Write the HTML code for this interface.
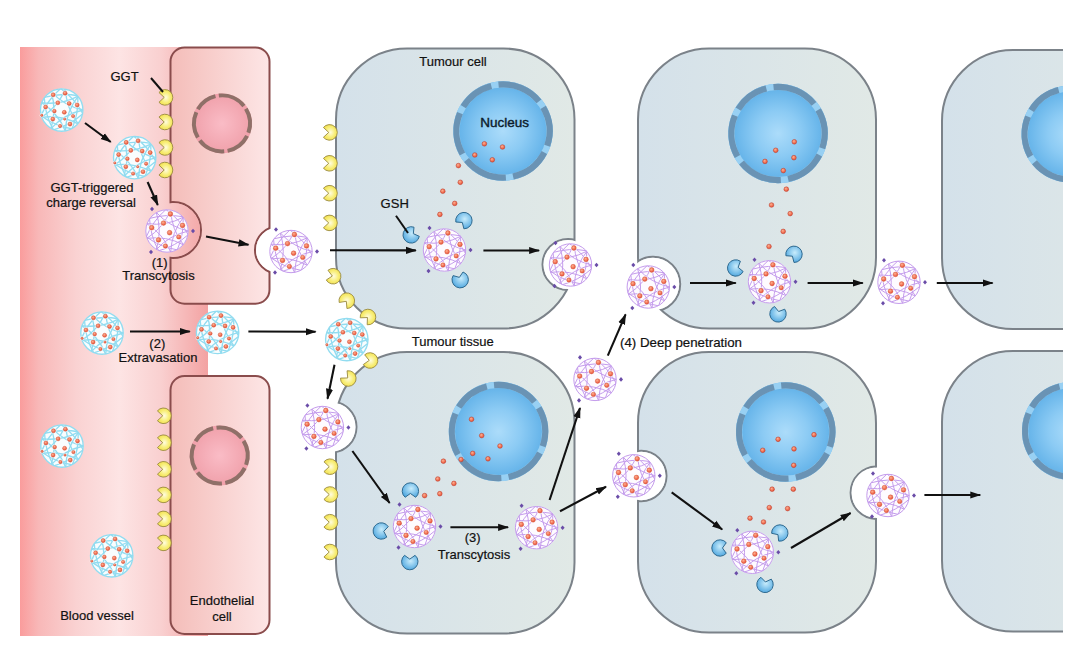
<!DOCTYPE html>
<html><head><meta charset="utf-8"><style>
html,body{margin:0;padding:0;background:#fff;width:1080px;height:656px;overflow:hidden}
text{-webkit-font-smoothing:antialiased}
svg{display:block}
text{font-family:"Liberation Sans", sans-serif}
</style></head><body>
<svg width="1080" height="656" viewBox="0 0 1080 656" font-family="Liberation Sans, sans-serif"><defs>
<linearGradient id="gVessel" gradientUnits="userSpaceOnUse" x1="20" y1="0" x2="208" y2="0">
  <stop offset="0" stop-color="#fa9c9c"/>
  <stop offset="0.1" stop-color="#f8b8b8"/>
  <stop offset="0.3" stop-color="#fad2d2"/>
  <stop offset="0.53" stop-color="#fde4e4"/>
  <stop offset="0.75" stop-color="#f9d0d0"/>
  <stop offset="1" stop-color="#f3a2a2"/>
</linearGradient>
<linearGradient id="gEndo" x1="0" y1="0" x2="1" y2="0">
  <stop offset="0" stop-color="#f4bdb9"/>
  <stop offset="1" stop-color="#fde6e6"/>
</linearGradient>
<linearGradient id="gTum" x1="0" y1="0" x2="1" y2="0">
  <stop offset="0" stop-color="#d4e1ea"/>
  <stop offset="1" stop-color="#e1e9e6"/>
</linearGradient>
<radialGradient id="gNuc" cx="0.5" cy="0.5" r="0.5">
  <stop offset="0" stop-color="#acdcfa"/>
  <stop offset="0.45" stop-color="#8ccbf4"/>
  <stop offset="0.9" stop-color="#64b3e9"/>
  <stop offset="1" stop-color="#64b3e9"/>
</radialGradient>
<radialGradient id="gNucE" cx="0.5" cy="0.5" r="0.5">
  <stop offset="0" stop-color="#fabcc6"/>
  <stop offset="1" stop-color="#f0a0aa"/>
</radialGradient>
<radialGradient id="gGGT" cx="0.5" cy="0.5" r="0.55">
  <stop offset="0" stop-color="#fffce0"/>
  <stop offset="0.6" stop-color="#f8ee78"/>
  <stop offset="1" stop-color="#f2e050"/>
</radialGradient>
<radialGradient id="gGSH" cx="0.55" cy="0.4" r="0.65">
  <stop offset="0" stop-color="#c8ecfc"/>
  <stop offset="1" stop-color="#4aa4de"/>
</radialGradient>
<radialGradient id="gDot" cx="0.4" cy="0.35" r="0.6">
  <stop offset="0" stop-color="#ffb090"/>
  <stop offset="1" stop-color="#e8553a"/>
</radialGradient>
<marker id="ah" viewBox="0 0 11 10" refX="10" refY="5" markerWidth="11" markerHeight="10" markerUnits="userSpaceOnUse" orient="auto">
  <path d="M0,1.4 L11,5 L0,8.6 Z" fill="#111"/>
</marker>

<symbol id="npB" viewBox="-23 -23 46 46" overflow="visible">
<clipPath id="cnpB"><circle r="21.5"/></clipPath>
<circle r="21.5" fill="#f9fdfe"/>
<g clip-path="url(#cnpB)" fill="none" stroke="#92dcf0" stroke-width="1.35">
<path d="M3.73,-21.17 Q4.46,-1.62 16.47,13.82"/>
<path d="M16.47,-13.82 Q4.46,1.62 3.73,21.17"/>
<path d="M21.50,0.00 Q2.38,4.11 -10.75,18.62"/>
<path d="M16.47,13.82 Q-0.82,4.68 -20.20,7.35"/>
<path d="M3.73,21.17 Q-3.64,3.05 -20.20,-7.35"/>
<path d="M-10.75,18.62 Q-4.75,0.00 -10.75,-18.62"/>
<path d="M-20.20,7.35 Q-3.64,-3.05 3.73,-21.17"/>
<path d="M-20.20,-7.35 Q-0.82,-4.68 16.47,-13.82"/>
<path d="M-10.75,-18.62 Q2.37,-4.11 21.50,0.00"/>
<path d="M21.17,3.73 Q8.32,15.29 -8.35,19.81"/>
<path d="M10.28,18.88 Q-6.76,16.04 -20.70,5.82"/>
<path d="M-8.35,19.81 Q-16.75,4.71 -17.46,-12.55"/>
<path d="M-20.70,5.82 Q-14.13,-10.16 -1.07,-21.47"/>
<path d="M-17.46,-12.55 Q-0.87,-17.38 16.12,-14.23"/>
<path d="M-1.07,-21.47 Q13.05,-11.52 21.17,3.73"/>
<path d="M16.12,-14.23 Q17.14,3.02 10.28,18.88"/>
</g>
<circle r="21.2" fill="none" stroke="#92dcf0" stroke-width="1.35"/>
<circle cx="-8.5" cy="-15.2" r="3.04" fill="#fff" opacity="0.6"/>
<circle cx="-8.5" cy="-15.2" r="2.04" fill="url(#gDot)" stroke="#d04830" stroke-width="0.4"/>
<circle cx="3.4" cy="-16.8" r="3.04" fill="#fff" opacity="0.6"/>
<circle cx="3.4" cy="-16.8" r="2.04" fill="url(#gDot)" stroke="#d04830" stroke-width="0.4"/>
<circle cx="-3.9" cy="-7.2" r="3.04" fill="#fff" opacity="0.6"/>
<circle cx="-3.9" cy="-7.2" r="2.04" fill="url(#gDot)" stroke="#d04830" stroke-width="0.4"/>
<circle cx="7.5" cy="-6.5" r="3.04" fill="#fff" opacity="0.6"/>
<circle cx="7.5" cy="-6.5" r="2.04" fill="url(#gDot)" stroke="#d04830" stroke-width="0.4"/>
<circle cx="15.5" cy="-5" r="3.04" fill="#fff" opacity="0.6"/>
<circle cx="15.5" cy="-5" r="2.04" fill="url(#gDot)" stroke="#d04830" stroke-width="0.4"/>
<circle cx="-16.1" cy="-3" r="3.04" fill="#fff" opacity="0.6"/>
<circle cx="-16.1" cy="-3" r="2.04" fill="url(#gDot)" stroke="#d04830" stroke-width="0.4"/>
<circle cx="-7.3" cy="1.1" r="2.87" fill="#fff" opacity="0.6"/>
<circle cx="-7.3" cy="1.1" r="1.87" fill="url(#gDot)" stroke="#d04830" stroke-width="0.4"/>
<circle cx="2.6" cy="2.3" r="3.04" fill="#fff" opacity="0.6"/>
<circle cx="2.6" cy="2.3" r="2.04" fill="url(#gDot)" stroke="#d04830" stroke-width="0.4"/>
<circle cx="11.4" cy="6.1" r="2.7" fill="#fff" opacity="0.6"/>
<circle cx="11.4" cy="6.1" r="1.7" fill="url(#gDot)" stroke="#d04830" stroke-width="0.4"/>
<circle cx="-19.9" cy="5.3" r="2.19" fill="#fff" opacity="0.6"/>
<circle cx="-19.9" cy="5.3" r="1.19" fill="url(#gDot)" stroke="#d04830" stroke-width="0.4"/>
<circle cx="-8.9" cy="9.1" r="3.04" fill="#fff" opacity="0.6"/>
<circle cx="-8.9" cy="9.1" r="2.04" fill="url(#gDot)" stroke="#d04830" stroke-width="0.4"/>
<circle cx="3" cy="9.1" r="2.19" fill="#fff" opacity="0.6"/>
<circle cx="3" cy="9.1" r="1.19" fill="url(#gDot)" stroke="#d04830" stroke-width="0.4"/>
<circle cx="8.3" cy="14.1" r="3.04" fill="#fff" opacity="0.6"/>
<circle cx="8.3" cy="14.1" r="2.04" fill="url(#gDot)" stroke="#d04830" stroke-width="0.4"/>
<circle cx="-1.6" cy="16" r="2.7" fill="#fff" opacity="0.6"/>
<circle cx="-1.6" cy="16" r="1.7" fill="url(#gDot)" stroke="#d04830" stroke-width="0.4"/>
</symbol>
<symbol id="npP" viewBox="-23 -23 46 46" overflow="visible">
<clipPath id="cnpP"><circle r="21.5"/></clipPath>
<circle r="21.5" fill="#fefbff"/>
<g clip-path="url(#cnpP)" fill="none" stroke="#c49cec" stroke-width="1.0">
<path d="M3.73,-21.17 Q4.46,-1.62 16.47,13.82"/>
<path d="M16.47,-13.82 Q4.46,1.62 3.73,21.17"/>
<path d="M21.50,0.00 Q2.38,4.11 -10.75,18.62"/>
<path d="M16.47,13.82 Q-0.82,4.68 -20.20,7.35"/>
<path d="M3.73,21.17 Q-3.64,3.05 -20.20,-7.35"/>
<path d="M-10.75,18.62 Q-4.75,0.00 -10.75,-18.62"/>
<path d="M-20.20,7.35 Q-3.64,-3.05 3.73,-21.17"/>
<path d="M-20.20,-7.35 Q-0.82,-4.68 16.47,-13.82"/>
<path d="M-10.75,-18.62 Q2.37,-4.11 21.50,0.00"/>
<path d="M21.17,3.73 Q8.32,15.29 -8.35,19.81"/>
<path d="M10.28,18.88 Q-6.76,16.04 -20.70,5.82"/>
<path d="M-8.35,19.81 Q-16.75,4.71 -17.46,-12.55"/>
<path d="M-20.70,5.82 Q-14.13,-10.16 -1.07,-21.47"/>
<path d="M-17.46,-12.55 Q-0.87,-17.38 16.12,-14.23"/>
<path d="M-1.07,-21.47 Q13.05,-11.52 21.17,3.73"/>
<path d="M16.12,-14.23 Q17.14,3.02 10.28,18.88"/>
</g>
<circle r="21.2" fill="none" stroke="#c49cec" stroke-width="1.0"/>
<circle cx="3.4" cy="-17" r="3.38" fill="#fff" opacity="0.6"/>
<circle cx="3.4" cy="-17" r="2.38" fill="url(#gDot)" stroke="#d04830" stroke-width="0.4"/>
<circle cx="-3.5" cy="-7.9" r="3.38" fill="#fff" opacity="0.6"/>
<circle cx="-3.5" cy="-7.9" r="2.38" fill="url(#gDot)" stroke="#d04830" stroke-width="0.4"/>
<circle cx="15.5" cy="-5.6" r="3.38" fill="#fff" opacity="0.6"/>
<circle cx="15.5" cy="-5.6" r="2.38" fill="url(#gDot)" stroke="#d04830" stroke-width="0.4"/>
<circle cx="-15.3" cy="-3.3" r="3.38" fill="#fff" opacity="0.6"/>
<circle cx="-15.3" cy="-3.3" r="2.38" fill="url(#gDot)" stroke="#d04830" stroke-width="0.4"/>
<circle cx="2.6" cy="1.7" r="3.38" fill="#fff" opacity="0.6"/>
<circle cx="2.6" cy="1.7" r="2.38" fill="url(#gDot)" stroke="#d04830" stroke-width="0.4"/>
<circle cx="11.7" cy="5.9" r="3.21" fill="#fff" opacity="0.6"/>
<circle cx="11.7" cy="5.9" r="2.21" fill="url(#gDot)" stroke="#d04830" stroke-width="0.4"/>
<circle cx="-8.5" cy="8.9" r="3.38" fill="#fff" opacity="0.6"/>
<circle cx="-8.5" cy="8.9" r="2.38" fill="url(#gDot)" stroke="#d04830" stroke-width="0.4"/>
<circle cx="-1.6" cy="15" r="3.21" fill="#fff" opacity="0.6"/>
<circle cx="-1.6" cy="15" r="2.21" fill="url(#gDot)" stroke="#d04830" stroke-width="0.4"/>
</symbol></defs>
<rect x="20" y="47" width="188" height="589" fill="url(#gVessel)"/>
<mask id="mE47" maskUnits="userSpaceOnUse" x="0" y="0" width="1080" height="656"><rect width="1080" height="656" fill="#fff"/><circle cx="173" cy="230" r="27" fill="#000"/><circle cx="278.6" cy="250" r="22.6" fill="#000"/></mask>
<clipPath id="cE47"><rect x="170.5" y="47.5" width="99.0" height="256.2" rx="14"/></clipPath>
<g mask="url(#mE47)">
<rect x="170.5" y="47.5" width="99.0" height="256.2" rx="14" fill="url(#gEndo)" stroke="#8a4c4c" stroke-width="2"/>
<circle cx="173" cy="230" r="28" fill="none" stroke="#8a4c4c" stroke-width="2" clip-path="url(#cE47)"/>
<circle cx="278.6" cy="250" r="23.6" fill="none" stroke="#8a4c4c" stroke-width="2" clip-path="url(#cE47)"/>
</g>
<mask id="mE376" maskUnits="userSpaceOnUse" x="0" y="0" width="1080" height="656"><rect width="1080" height="656" fill="#fff"/></mask>
<clipPath id="cE376"><rect x="170.5" y="376" width="99.0" height="258" rx="14"/></clipPath>
<g mask="url(#mE376)">
<rect x="170.5" y="376" width="99.0" height="258" rx="14" fill="url(#gEndo)" stroke="#8a4c4c" stroke-width="2"/>
</g>
<circle cx="222" cy="123.4" r="30" fill="url(#gNucE)"/>
<path d="M218.83,95.58 A28.0,28.0 0 0 1 243.91,105.97" fill="none" stroke="#8f7068" stroke-width="4"/>
<path d="M245.87,108.77 A28.0,28.0 0 0 1 248.39,132.75" fill="none" stroke="#8f7068" stroke-width="4"/>
<path d="M247.06,135.89 A28.0,28.0 0 0 1 227.58,150.84" fill="none" stroke="#8f7068" stroke-width="4"/>
<path d="M224.20,151.31 A28.0,28.0 0 0 1 199.79,140.45" fill="none" stroke="#8f7068" stroke-width="4"/>
<path d="M197.87,137.61 A28.0,28.0 0 0 1 196.32,112.24" fill="none" stroke="#8f7068" stroke-width="4"/>
<path d="M197.87,109.19 A28.0,28.0 0 0 1 215.46,96.17" fill="none" stroke="#8f7068" stroke-width="4"/>
<circle cx="219.7" cy="455.5" r="30" fill="url(#gNucE)"/>
<path d="M216.53,427.68 A28.0,28.0 0 0 1 241.61,438.07" fill="none" stroke="#8f7068" stroke-width="4"/>
<path d="M243.57,440.87 A28.0,28.0 0 0 1 246.09,464.85" fill="none" stroke="#8f7068" stroke-width="4"/>
<path d="M244.76,467.99 A28.0,28.0 0 0 1 225.28,482.94" fill="none" stroke="#8f7068" stroke-width="4"/>
<path d="M221.90,483.41 A28.0,28.0 0 0 1 197.49,472.55" fill="none" stroke="#8f7068" stroke-width="4"/>
<path d="M195.57,469.71 A28.0,28.0 0 0 1 194.02,444.34" fill="none" stroke="#8f7068" stroke-width="4"/>
<path d="M195.57,441.29 A28.0,28.0 0 0 1 213.16,428.27" fill="none" stroke="#8f7068" stroke-width="4"/>
<mask id="mTA" maskUnits="userSpaceOnUse" x="0" y="0" width="1080" height="656"><rect width="1080" height="656" fill="#fff"/><circle cx="568" cy="264.5" r="24.5" fill="#000"/></mask>
<clipPath id="cTA"><path d="M407,48.5 H503.5 A71,71 0 0 1 574.5,119.5 V257.5 A71,71 0 0 1 503.5,328.5 H407 A71,71 0 0 1 336,257.5 V119.5 A71,71 0 0 1 407,48.5 Z"/></clipPath>
<g mask="url(#mTA)">
<path d="M407,48.5 H503.5 A71,71 0 0 1 574.5,119.5 V257.5 A71,71 0 0 1 503.5,328.5 H407 A71,71 0 0 1 336,257.5 V119.5 A71,71 0 0 1 407,48.5 Z" fill="url(#gTum)" stroke="#7b8289" stroke-width="2"/>
<circle cx="568" cy="264.5" r="25.5" fill="none" stroke="#7b8289" stroke-width="2" clip-path="url(#cTA)"/>
</g>
<mask id="mTB" maskUnits="userSpaceOnUse" x="0" y="0" width="1080" height="656"><rect width="1080" height="656" fill="#fff"/><circle cx="653" cy="284" r="26.2" fill="#000"/></mask>
<clipPath id="cTB"><path d="M709,48.5 H805 A71,71 0 0 1 876,119.5 V257.5 A71,71 0 0 1 805,328.5 H709 A71,71 0 0 1 638,257.5 V119.5 A71,71 0 0 1 709,48.5 Z"/></clipPath>
<g mask="url(#mTB)">
<path d="M709,48.5 H805 A71,71 0 0 1 876,119.5 V257.5 A71,71 0 0 1 805,328.5 H709 A71,71 0 0 1 638,257.5 V119.5 A71,71 0 0 1 709,48.5 Z" fill="url(#gTum)" stroke="#7b8289" stroke-width="2"/>
<circle cx="653" cy="284" r="27.2" fill="none" stroke="#7b8289" stroke-width="2" clip-path="url(#cTB)"/>
</g>
<mask id="mTC" maskUnits="userSpaceOnUse" x="0" y="0" width="1080" height="656"><rect width="1080" height="656" fill="#fff"/><rect x="1063" y="0" width="17" height="656" fill="#000"/></mask>
<clipPath id="cTC"><path d="M1013,50 H1109 A71,71 0 0 1 1180,121 V258 A71,71 0 0 1 1109,329 H1013 A71,71 0 0 1 942,258 V121 A71,71 0 0 1 1013,50 Z"/></clipPath>
<g mask="url(#mTC)">
<path d="M1013,50 H1109 A71,71 0 0 1 1180,121 V258 A71,71 0 0 1 1109,329 H1013 A71,71 0 0 1 942,258 V121 A71,71 0 0 1 1013,50 Z" fill="url(#gTum)" stroke="#7b8289" stroke-width="2"/>
</g>
<mask id="mTD" maskUnits="userSpaceOnUse" x="0" y="0" width="1080" height="656"><rect width="1080" height="656" fill="#fff"/><circle cx="331" cy="427" r="24.5" fill="#000"/></mask>
<clipPath id="cTD"><path d="M407,352 H503.5 A71,71 0 0 1 574.5,423 V562.5 A71,71 0 0 1 503.5,633.5 H407 A71,71 0 0 1 336,562.5 V423 A71,71 0 0 1 407,352 Z"/></clipPath>
<g mask="url(#mTD)">
<path d="M407,352 H503.5 A71,71 0 0 1 574.5,423 V562.5 A71,71 0 0 1 503.5,633.5 H407 A71,71 0 0 1 336,562.5 V423 A71,71 0 0 1 407,352 Z" fill="url(#gTum)" stroke="#7b8289" stroke-width="2"/>
<circle cx="331" cy="427" r="25.5" fill="none" stroke="#7b8289" stroke-width="2" clip-path="url(#cTD)"/>
</g>
<mask id="mTE" maskUnits="userSpaceOnUse" x="0" y="0" width="1080" height="656"><rect width="1080" height="656" fill="#fff"/><circle cx="641.3" cy="476" r="24.2" fill="#000"/><circle cx="876.9" cy="492.7" r="25.3" fill="#000"/></mask>
<clipPath id="cTE"><path d="M709,352 H805 A71,71 0 0 1 876,423 V561.5 A71,71 0 0 1 805,632.5 H709 A71,71 0 0 1 638,561.5 V423 A71,71 0 0 1 709,352 Z"/></clipPath>
<g mask="url(#mTE)">
<path d="M709,352 H805 A71,71 0 0 1 876,423 V561.5 A71,71 0 0 1 805,632.5 H709 A71,71 0 0 1 638,561.5 V423 A71,71 0 0 1 709,352 Z" fill="url(#gTum)" stroke="#7b8289" stroke-width="2"/>
<circle cx="641.3" cy="476" r="25.2" fill="none" stroke="#7b8289" stroke-width="2" clip-path="url(#cTE)"/>
<circle cx="876.9" cy="492.7" r="26.3" fill="none" stroke="#7b8289" stroke-width="2" clip-path="url(#cTE)"/>
</g>
<mask id="mTF" maskUnits="userSpaceOnUse" x="0" y="0" width="1080" height="656"><rect width="1080" height="656" fill="#fff"/><rect x="1063" y="0" width="17" height="656" fill="#000"/></mask>
<clipPath id="cTF"><path d="M1013,351 H1109 A71,71 0 0 1 1180,422 V560.5 A71,71 0 0 1 1109,631.5 H1013 A71,71 0 0 1 942,560.5 V422 A71,71 0 0 1 1013,351 Z"/></clipPath>
<g mask="url(#mTF)">
<path d="M1013,351 H1109 A71,71 0 0 1 1180,422 V560.5 A71,71 0 0 1 1109,631.5 H1013 A71,71 0 0 1 942,560.5 V422 A71,71 0 0 1 1013,351 Z" fill="url(#gTum)" stroke="#7b8289" stroke-width="2"/>
</g>
<clipPath id="clipR"><rect x="0" y="0" width="1063" height="656"/></clipPath>
<circle cx="503" cy="131" r="49.7" fill="url(#gNuc)"/>
<circle cx="503" cy="131" r="46.6" fill="none" stroke="#98d0f3" stroke-width="6.2"/>
<path d="M498.53,84.61 A46.6,46.6 0 0 1 538.96,101.36" fill="none" stroke="#6a93b4" stroke-width="6.2"/>
<path d="M543.15,107.35 A46.6,46.6 0 0 1 547.19,145.79" fill="none" stroke="#6a93b4" stroke-width="6.2"/>
<path d="M544.33,152.52 A46.6,46.6 0 0 1 513.09,176.50" fill="none" stroke="#6a93b4" stroke-width="6.2"/>
<path d="M505.84,177.51 A46.6,46.6 0 0 1 466.53,160.01" fill="none" stroke="#6a93b4" stroke-width="6.2"/>
<path d="M462.44,153.95 A46.6,46.6 0 0 1 459.95,113.17" fill="none" stroke="#6a93b4" stroke-width="6.2"/>
<path d="M463.27,106.65 A46.6,46.6 0 0 1 491.33,85.88" fill="none" stroke="#6a93b4" stroke-width="6.2"/>
<circle cx="778" cy="133.5" r="49.7" fill="url(#gNuc)"/>
<circle cx="778" cy="133.5" r="46.6" fill="none" stroke="#98d0f3" stroke-width="6.2"/>
<path d="M773.53,87.11 A46.6,46.6 0 0 1 813.96,103.86" fill="none" stroke="#6a93b4" stroke-width="6.2"/>
<path d="M818.15,109.85 A46.6,46.6 0 0 1 822.19,148.29" fill="none" stroke="#6a93b4" stroke-width="6.2"/>
<path d="M819.33,155.02 A46.6,46.6 0 0 1 788.09,179.00" fill="none" stroke="#6a93b4" stroke-width="6.2"/>
<path d="M780.84,180.01 A46.6,46.6 0 0 1 741.53,162.51" fill="none" stroke="#6a93b4" stroke-width="6.2"/>
<path d="M737.44,156.45 A46.6,46.6 0 0 1 734.95,115.67" fill="none" stroke="#6a93b4" stroke-width="6.2"/>
<path d="M738.27,109.15 A46.6,46.6 0 0 1 766.33,88.38" fill="none" stroke="#6a93b4" stroke-width="6.2"/>
<g clip-path="url(#clipR)">
<circle cx="1070" cy="134" r="48.5" fill="url(#gNuc)"/>
<circle cx="1070" cy="134" r="45.4" fill="none" stroke="#98d0f3" stroke-width="6.2"/>
<path d="M1065.65,88.81 A45.4,45.4 0 0 1 1105.03,105.12" fill="none" stroke="#6a93b4" stroke-width="6.2"/>
<path d="M1109.12,110.96 A45.4,45.4 0 0 1 1113.05,148.41" fill="none" stroke="#6a93b4" stroke-width="6.2"/>
<path d="M1110.27,154.96 A45.4,45.4 0 0 1 1079.83,178.32" fill="none" stroke="#6a93b4" stroke-width="6.2"/>
<path d="M1072.77,179.32 A45.4,45.4 0 0 1 1034.47,162.26" fill="none" stroke="#6a93b4" stroke-width="6.2"/>
<path d="M1030.49,156.36 A45.4,45.4 0 0 1 1028.06,116.63" fill="none" stroke="#6a93b4" stroke-width="6.2"/>
<path d="M1031.29,110.28 A45.4,45.4 0 0 1 1058.63,90.05" fill="none" stroke="#6a93b4" stroke-width="6.2"/>
</g>
<circle cx="498.5" cy="431.5" r="49.7" fill="url(#gNuc)"/>
<circle cx="498.5" cy="431.5" r="46.6" fill="none" stroke="#98d0f3" stroke-width="6.2"/>
<path d="M494.03,385.11 A46.6,46.6 0 0 1 534.46,401.86" fill="none" stroke="#6a93b4" stroke-width="6.2"/>
<path d="M538.65,407.85 A46.6,46.6 0 0 1 542.69,446.29" fill="none" stroke="#6a93b4" stroke-width="6.2"/>
<path d="M539.83,453.02 A46.6,46.6 0 0 1 508.59,477.00" fill="none" stroke="#6a93b4" stroke-width="6.2"/>
<path d="M501.34,478.01 A46.6,46.6 0 0 1 462.03,460.51" fill="none" stroke="#6a93b4" stroke-width="6.2"/>
<path d="M457.94,454.45 A46.6,46.6 0 0 1 455.45,413.67" fill="none" stroke="#6a93b4" stroke-width="6.2"/>
<path d="M458.77,407.15 A46.6,46.6 0 0 1 486.83,386.38" fill="none" stroke="#6a93b4" stroke-width="6.2"/>
<circle cx="785.7" cy="432" r="49.7" fill="url(#gNuc)"/>
<circle cx="785.7" cy="432" r="46.6" fill="none" stroke="#98d0f3" stroke-width="6.2"/>
<path d="M781.23,385.61 A46.6,46.6 0 0 1 821.66,402.36" fill="none" stroke="#6a93b4" stroke-width="6.2"/>
<path d="M825.85,408.35 A46.6,46.6 0 0 1 829.89,446.79" fill="none" stroke="#6a93b4" stroke-width="6.2"/>
<path d="M827.03,453.52 A46.6,46.6 0 0 1 795.79,477.50" fill="none" stroke="#6a93b4" stroke-width="6.2"/>
<path d="M788.54,478.51 A46.6,46.6 0 0 1 749.23,461.01" fill="none" stroke="#6a93b4" stroke-width="6.2"/>
<path d="M745.14,454.95 A46.6,46.6 0 0 1 742.65,414.17" fill="none" stroke="#6a93b4" stroke-width="6.2"/>
<path d="M745.97,407.65 A46.6,46.6 0 0 1 774.03,386.88" fill="none" stroke="#6a93b4" stroke-width="6.2"/>
<g clip-path="url(#clipR)">
<circle cx="1071" cy="431" r="49" fill="url(#gNuc)"/>
<circle cx="1071" cy="431" r="45.9" fill="none" stroke="#98d0f3" stroke-width="6.2"/>
<path d="M1066.60,385.31 A45.9,45.9 0 0 1 1106.42,401.80" fill="none" stroke="#6a93b4" stroke-width="6.2"/>
<path d="M1110.55,407.70 A45.9,45.9 0 0 1 1114.53,445.56" fill="none" stroke="#6a93b4" stroke-width="6.2"/>
<path d="M1111.71,452.19 A45.9,45.9 0 0 1 1080.93,475.81" fill="none" stroke="#6a93b4" stroke-width="6.2"/>
<path d="M1073.80,476.81 A45.9,45.9 0 0 1 1035.08,459.57" fill="none" stroke="#6a93b4" stroke-width="6.2"/>
<path d="M1031.05,453.60 A45.9,45.9 0 0 1 1028.59,413.43" fill="none" stroke="#6a93b4" stroke-width="6.2"/>
<path d="M1031.86,407.02 A45.9,45.9 0 0 1 1059.51,386.56" fill="none" stroke="#6a93b4" stroke-width="6.2"/>
</g>
<circle cx="484.4" cy="143.8" r="2.35" fill="url(#gDot)" stroke="#b83828" stroke-width="0.5"/>
<circle cx="502.5" cy="147" r="2.35" fill="url(#gDot)" stroke="#b83828" stroke-width="0.5"/>
<circle cx="474.8" cy="155" r="2.35" fill="url(#gDot)" stroke="#b83828" stroke-width="0.5"/>
<circle cx="492.3" cy="159.8" r="2.35" fill="url(#gDot)" stroke="#b83828" stroke-width="0.5"/>
<circle cx="458.4" cy="165.6" r="2.35" fill="url(#gDot)" stroke="#b83828" stroke-width="0.5"/>
<circle cx="460.3" cy="182.3" r="2.35" fill="url(#gDot)" stroke="#b83828" stroke-width="0.5"/>
<circle cx="442.8" cy="191.2" r="2.35" fill="url(#gDot)" stroke="#b83828" stroke-width="0.5"/>
<circle cx="454.7" cy="203.4" r="2.35" fill="url(#gDot)" stroke="#b83828" stroke-width="0.5"/>
<circle cx="439.9" cy="214.4" r="2.35" fill="url(#gDot)" stroke="#b83828" stroke-width="0.5"/>
<circle cx="794.3" cy="141.8" r="2.35" fill="url(#gDot)" stroke="#b83828" stroke-width="0.5"/>
<circle cx="775.7" cy="150.3" r="2.35" fill="url(#gDot)" stroke="#b83828" stroke-width="0.5"/>
<circle cx="793.9" cy="157.7" r="2.35" fill="url(#gDot)" stroke="#b83828" stroke-width="0.5"/>
<circle cx="765" cy="161.4" r="2.35" fill="url(#gDot)" stroke="#b83828" stroke-width="0.5"/>
<circle cx="783.3" cy="170.6" r="2.35" fill="url(#gDot)" stroke="#b83828" stroke-width="0.5"/>
<circle cx="786.3" cy="189.2" r="2.35" fill="url(#gDot)" stroke="#b83828" stroke-width="0.5"/>
<circle cx="771.5" cy="205" r="2.35" fill="url(#gDot)" stroke="#b83828" stroke-width="0.5"/>
<circle cx="790.2" cy="213.6" r="2.35" fill="url(#gDot)" stroke="#b83828" stroke-width="0.5"/>
<circle cx="783.2" cy="231.4" r="2.35" fill="url(#gDot)" stroke="#b83828" stroke-width="0.5"/>
<circle cx="769" cy="246.5" r="2.35" fill="url(#gDot)" stroke="#b83828" stroke-width="0.5"/>
<circle cx="471.5" cy="419.3" r="2.35" fill="url(#gDot)" stroke="#b83828" stroke-width="0.5"/>
<circle cx="481.7" cy="435.6" r="2.35" fill="url(#gDot)" stroke="#b83828" stroke-width="0.5"/>
<circle cx="500" cy="446" r="2.35" fill="url(#gDot)" stroke="#b83828" stroke-width="0.5"/>
<circle cx="472.7" cy="453.4" r="2.35" fill="url(#gDot)" stroke="#b83828" stroke-width="0.5"/>
<circle cx="488" cy="458.8" r="2.35" fill="url(#gDot)" stroke="#b83828" stroke-width="0.5"/>
<circle cx="461" cy="459.5" r="2.35" fill="url(#gDot)" stroke="#b83828" stroke-width="0.5"/>
<circle cx="443.4" cy="461.2" r="2.35" fill="url(#gDot)" stroke="#b83828" stroke-width="0.5"/>
<circle cx="437.8" cy="479" r="2.35" fill="url(#gDot)" stroke="#b83828" stroke-width="0.5"/>
<circle cx="453.9" cy="483.4" r="2.35" fill="url(#gDot)" stroke="#b83828" stroke-width="0.5"/>
<circle cx="424.6" cy="495.6" r="2.35" fill="url(#gDot)" stroke="#b83828" stroke-width="0.5"/>
<circle cx="439.8" cy="493.7" r="2.35" fill="url(#gDot)" stroke="#b83828" stroke-width="0.5"/>
<circle cx="778.1" cy="439.3" r="2.35" fill="url(#gDot)" stroke="#b83828" stroke-width="0.5"/>
<circle cx="814" cy="434.7" r="2.35" fill="url(#gDot)" stroke="#b83828" stroke-width="0.5"/>
<circle cx="762.7" cy="450.3" r="2.35" fill="url(#gDot)" stroke="#b83828" stroke-width="0.5"/>
<circle cx="794" cy="448.9" r="2.35" fill="url(#gDot)" stroke="#b83828" stroke-width="0.5"/>
<circle cx="793.7" cy="465.3" r="2.35" fill="url(#gDot)" stroke="#b83828" stroke-width="0.5"/>
<circle cx="772.1" cy="489.2" r="2.35" fill="url(#gDot)" stroke="#b83828" stroke-width="0.5"/>
<circle cx="793.3" cy="489.2" r="2.35" fill="url(#gDot)" stroke="#b83828" stroke-width="0.5"/>
<circle cx="769.3" cy="507.6" r="2.35" fill="url(#gDot)" stroke="#b83828" stroke-width="0.5"/>
<circle cx="787.6" cy="508.6" r="2.35" fill="url(#gDot)" stroke="#b83828" stroke-width="0.5"/>
<circle cx="750" cy="518.2" r="2.35" fill="url(#gDot)" stroke="#b83828" stroke-width="0.5"/>
<circle cx="763.5" cy="522" r="2.35" fill="url(#gDot)" stroke="#b83828" stroke-width="0.5"/>
<path d="M164.22,97.40 L158.94,92.49 A7.8,7.8 0 1 1 158.94,102.31 Z" fill="url(#gGGT)" stroke="#9a8a40" stroke-width="0.9" stroke-linejoin="round"/>
<path d="M164.22,122.00 L158.94,117.09 A7.8,7.8 0 1 1 158.94,126.91 Z" fill="url(#gGGT)" stroke="#9a8a40" stroke-width="0.9" stroke-linejoin="round"/>
<path d="M164.22,147.50 L158.94,142.59 A7.8,7.8 0 1 1 158.94,152.41 Z" fill="url(#gGGT)" stroke="#9a8a40" stroke-width="0.9" stroke-linejoin="round"/>
<path d="M164.22,170.00 L158.94,165.09 A7.8,7.8 0 1 1 158.94,174.91 Z" fill="url(#gGGT)" stroke="#9a8a40" stroke-width="0.9" stroke-linejoin="round"/>
<path d="M162.72,415.80 L157.44,410.89 A7.8,7.8 0 1 1 157.44,420.71 Z" fill="url(#gGGT)" stroke="#9a8a40" stroke-width="0.9" stroke-linejoin="round"/>
<path d="M162.72,442.70 L157.44,437.79 A7.8,7.8 0 1 1 157.44,447.61 Z" fill="url(#gGGT)" stroke="#9a8a40" stroke-width="0.9" stroke-linejoin="round"/>
<path d="M162.72,469.30 L157.44,464.39 A7.8,7.8 0 1 1 157.44,474.21 Z" fill="url(#gGGT)" stroke="#9a8a40" stroke-width="0.9" stroke-linejoin="round"/>
<path d="M162.72,494.90 L157.44,489.99 A7.8,7.8 0 1 1 157.44,499.81 Z" fill="url(#gGGT)" stroke="#9a8a40" stroke-width="0.9" stroke-linejoin="round"/>
<path d="M162.72,518.90 L157.44,513.99 A7.8,7.8 0 1 1 157.44,523.81 Z" fill="url(#gGGT)" stroke="#9a8a40" stroke-width="0.9" stroke-linejoin="round"/>
<path d="M162.72,542.90 L157.44,537.99 A7.8,7.8 0 1 1 157.44,547.81 Z" fill="url(#gGGT)" stroke="#9a8a40" stroke-width="0.9" stroke-linejoin="round"/>
<path d="M328.72,132.40 L323.44,127.49 A7.8,7.8 0 1 1 323.44,137.31 Z" fill="url(#gGGT)" stroke="#9a8a40" stroke-width="0.9" stroke-linejoin="round"/>
<path d="M328.72,163.30 L323.44,158.39 A7.8,7.8 0 1 1 323.44,168.21 Z" fill="url(#gGGT)" stroke="#9a8a40" stroke-width="0.9" stroke-linejoin="round"/>
<path d="M328.72,193.20 L323.44,188.29 A7.8,7.8 0 1 1 323.44,198.11 Z" fill="url(#gGGT)" stroke="#9a8a40" stroke-width="0.9" stroke-linejoin="round"/>
<path d="M328.72,222.90 L323.44,217.99 A7.8,7.8 0 1 1 323.44,227.81 Z" fill="url(#gGGT)" stroke="#9a8a40" stroke-width="0.9" stroke-linejoin="round"/>
<path d="M332.33,276.06 L327.98,270.31 A7.8,7.8 0 1 1 326.28,279.98 Z" fill="url(#gGGT)" stroke="#9a8a40" stroke-width="0.9" stroke-linejoin="round"/>
<path d="M346.32,301.31 L339.20,302.45 A7.8,7.8 0 1 1 346.94,308.50 Z" fill="url(#gGGT)" stroke="#9a8a40" stroke-width="0.9" stroke-linejoin="round"/>
<path d="M367.45,317.55 L360.24,317.82 A7.8,7.8 0 1 1 367.18,324.76 Z" fill="url(#gGGT)" stroke="#9a8a40" stroke-width="0.9" stroke-linejoin="round"/>
<path d="M369.23,360.39 L364.68,354.80 A7.8,7.8 0 1 1 363.31,364.52 Z" fill="url(#gGGT)" stroke="#9a8a40" stroke-width="0.9" stroke-linejoin="round"/>
<path d="M347.72,377.98 L347.08,370.80 A7.8,7.8 0 1 1 340.51,378.09 Z" fill="url(#gGGT)" stroke="#9a8a40" stroke-width="0.9" stroke-linejoin="round"/>
<path d="M329.22,466.70 L323.94,461.79 A7.8,7.8 0 1 1 323.94,471.61 Z" fill="url(#gGGT)" stroke="#9a8a40" stroke-width="0.9" stroke-linejoin="round"/>
<path d="M329.22,494.50 L323.94,489.59 A7.8,7.8 0 1 1 323.94,499.41 Z" fill="url(#gGGT)" stroke="#9a8a40" stroke-width="0.9" stroke-linejoin="round"/>
<path d="M329.22,522.20 L323.94,517.29 A7.8,7.8 0 1 1 323.94,527.11 Z" fill="url(#gGGT)" stroke="#9a8a40" stroke-width="0.9" stroke-linejoin="round"/>
<path d="M329.22,552.00 L323.94,547.09 A7.8,7.8 0 1 1 323.94,556.91 Z" fill="url(#gGGT)" stroke="#9a8a40" stroke-width="0.9" stroke-linejoin="round"/>
<path d="M413.33,233.67 L419.28,236.32 A8.2,8.2 0 1 1 414.00,227.19 Z" fill="url(#gGSH)" stroke="#2f6a90" stroke-width="1.0" stroke-linejoin="round"/>
<path d="M462.32,222.48 L455.82,222.02 A8.2,8.2 0 1 1 463.90,228.80 Z" fill="url(#gGSH)" stroke="#2f6a90" stroke-width="1.0" stroke-linejoin="round"/>
<path d="M459.36,277.39 L463.00,271.99 A8.2,8.2 0 1 1 453.10,275.60 Z" fill="url(#gGSH)" stroke="#2f6a90" stroke-width="1.0" stroke-linejoin="round"/>
<path d="M738.08,267.36 L743.13,271.47 A8.2,8.2 0 1 1 740.40,261.28 Z" fill="url(#gGSH)" stroke="#2f6a90" stroke-width="1.0" stroke-linejoin="round"/>
<path d="M792.42,256.18 L785.92,255.72 A8.2,8.2 0 1 1 794.00,262.50 Z" fill="url(#gGSH)" stroke="#2f6a90" stroke-width="1.0" stroke-linejoin="round"/>
<path d="M778.64,311.52 L784.72,309.20 A8.2,8.2 0 1 1 774.53,306.47 Z" fill="url(#gGSH)" stroke="#2f6a90" stroke-width="1.0" stroke-linejoin="round"/>
<path d="M410.40,493.46 L405.13,497.28 A8.2,8.2 0 1 1 415.67,497.28 Z" fill="url(#gGSH)" stroke="#2f6a90" stroke-width="1.0" stroke-linejoin="round"/>
<path d="M383.74,531.34 L386.79,537.09 A8.2,8.2 0 1 1 388.25,526.65 Z" fill="url(#gGSH)" stroke="#2f6a90" stroke-width="1.0" stroke-linejoin="round"/>
<path d="M409.80,559.14 L415.07,555.32 A8.2,8.2 0 1 1 404.53,555.32 Z" fill="url(#gGSH)" stroke="#2f6a90" stroke-width="1.0" stroke-linejoin="round"/>
<path d="M722.46,548.00 L726.28,553.27 A8.2,8.2 0 1 1 726.28,542.73 Z" fill="url(#gGSH)" stroke="#2f6a90" stroke-width="1.0" stroke-linejoin="round"/>
<path d="M777.97,534.65 L771.60,533.29 A8.2,8.2 0 1 1 778.66,541.12 Z" fill="url(#gGSH)" stroke="#2f6a90" stroke-width="1.0" stroke-linejoin="round"/>
<path d="M765.43,581.98 L771.28,579.13 A8.2,8.2 0 1 1 760.90,577.30 Z" fill="url(#gGSH)" stroke="#2f6a90" stroke-width="1.0" stroke-linejoin="round"/>
<use href="#npB" x="38.7" y="87" width="46" height="46"/>
<use href="#npB" x="111.69999999999999" y="134.6" width="46" height="46"/>
<use href="#npB" x="79" y="310" width="46" height="46"/>
<use href="#npB" x="194.6" y="309.4" width="46" height="46"/>
<use href="#npB" x="323.8" y="316.5" width="46" height="46"/>
<use href="#npB" x="39" y="423" width="46" height="46"/>
<use href="#npB" x="88.7" y="532.8" width="46" height="46"/>
<use href="#npP" x="144" y="208" width="46" height="46"/>
<path d="M152,206.7 L154,209 L152,211.3 L150,209 Z" fill="#6a4ca8"/>
<path d="M193,228.7 L195,231 L193,233.3 L191,231 Z" fill="#6a4ca8"/>
<path d="M151,249.7 L153,252 L151,254.3 L149,252 Z" fill="#6a4ca8"/>
<use href="#npP" x="268" y="228.5" width="46" height="46"/>
<path d="M276,227.2 L278,229.5 L276,231.8 L274,229.5 Z" fill="#6a4ca8"/>
<path d="M317,249.2 L319,251.5 L317,253.8 L315,251.5 Z" fill="#6a4ca8"/>
<path d="M275,270.2 L277,272.5 L275,274.8 L273,272.5 Z" fill="#6a4ca8"/>
<use href="#npP" x="421.5" y="227" width="46" height="46"/>
<path d="M429.5,225.7 L431.5,228 L429.5,230.3 L427.5,228 Z" fill="#6a4ca8"/>
<path d="M470.5,247.7 L472.5,250 L470.5,252.3 L468.5,250 Z" fill="#6a4ca8"/>
<path d="M428.5,268.7 L430.5,271 L428.5,273.3 L426.5,271 Z" fill="#6a4ca8"/>
<use href="#npP" x="547.5" y="242" width="46" height="46"/>
<path d="M555.5,240.7 L557.5,243 L555.5,245.3 L553.5,243 Z" fill="#6a4ca8"/>
<path d="M596.5,262.7 L598.5,265 L596.5,267.3 L594.5,265 Z" fill="#6a4ca8"/>
<path d="M554.5,283.7 L556.5,286 L554.5,288.3 L552.5,286 Z" fill="#6a4ca8"/>
<use href="#npP" x="625.3" y="264" width="46" height="46"/>
<path d="M633.3,262.7 L635.3,265 L633.3,267.3 L631.3,265 Z" fill="#6a4ca8"/>
<path d="M674.3,284.7 L676.3,287 L674.3,289.3 L672.3,287 Z" fill="#6a4ca8"/>
<path d="M632.3,305.7 L634.3,308 L632.3,310.3 L630.3,308 Z" fill="#6a4ca8"/>
<use href="#npP" x="746.5" y="258.8" width="46" height="46"/>
<path d="M754.5,257.5 L756.5,259.8 L754.5,262.1 L752.5,259.8 Z" fill="#6a4ca8"/>
<path d="M795.5,279.5 L797.5,281.8 L795.5,284.1 L793.5,281.8 Z" fill="#6a4ca8"/>
<path d="M753.5,300.5 L755.5,302.8 L753.5,305.1 L751.5,302.8 Z" fill="#6a4ca8"/>
<use href="#npP" x="876" y="259.3" width="46" height="46"/>
<path d="M884,258.0 L886,260.3 L884,262.6 L882,260.3 Z" fill="#6a4ca8"/>
<path d="M925,280.0 L927,282.3 L925,284.6 L923,282.3 Z" fill="#6a4ca8"/>
<path d="M883,301.0 L885,303.3 L883,305.6 L881,303.3 Z" fill="#6a4ca8"/>
<use href="#npP" x="299.4" y="404.5" width="46" height="46"/>
<path d="M307.4,403.2 L309.4,405.5 L307.4,407.8 L305.4,405.5 Z" fill="#6a4ca8"/>
<path d="M348.4,425.2 L350.4,427.5 L348.4,429.8 L346.4,427.5 Z" fill="#6a4ca8"/>
<path d="M306.4,446.2 L308.4,448.5 L306.4,450.8 L304.4,448.5 Z" fill="#6a4ca8"/>
<use href="#npP" x="391.5" y="503.5" width="46" height="46"/>
<path d="M399.5,502.2 L401.5,504.5 L399.5,506.8 L397.5,504.5 Z" fill="#6a4ca8"/>
<path d="M440.5,524.2 L442.5,526.5 L440.5,528.8 L438.5,526.5 Z" fill="#6a4ca8"/>
<path d="M398.5,545.2 L400.5,547.5 L398.5,549.8 L396.5,547.5 Z" fill="#6a4ca8"/>
<use href="#npP" x="513.6" y="504.70000000000005" width="46" height="46"/>
<path d="M521.6,503.40000000000003 L523.6,505.70000000000005 L521.6,508.00000000000006 L519.6,505.70000000000005 Z" fill="#6a4ca8"/>
<path d="M562.6,525.4000000000001 L564.6,527.7 L562.6,530.0 L560.6,527.7 Z" fill="#6a4ca8"/>
<path d="M520.6,546.4000000000001 L522.6,548.7 L520.6,551.0 L518.6,548.7 Z" fill="#6a4ca8"/>
<use href="#npP" x="572" y="356.4" width="46" height="46"/>
<path d="M580,355.09999999999997 L582,357.4 L580,359.7 L578,357.4 Z" fill="#6a4ca8"/>
<path d="M621,377.09999999999997 L623,379.4 L621,381.7 L619,379.4 Z" fill="#6a4ca8"/>
<path d="M579,398.09999999999997 L581,400.4 L579,402.7 L577,400.4 Z" fill="#6a4ca8"/>
<use href="#npP" x="610.8" y="452.8" width="46" height="46"/>
<path d="M618.8,451.5 L620.8,453.8 L618.8,456.1 L616.8,453.8 Z" fill="#6a4ca8"/>
<path d="M659.8,473.5 L661.8,475.8 L659.8,478.1 L657.8,475.8 Z" fill="#6a4ca8"/>
<path d="M617.8,494.5 L619.8,496.8 L617.8,499.1 L615.8,496.8 Z" fill="#6a4ca8"/>
<use href="#npP" x="729.3" y="529.3" width="46" height="46"/>
<path d="M737.3,528.0 L739.3,530.3 L737.3,532.5999999999999 L735.3,530.3 Z" fill="#6a4ca8"/>
<path d="M778.3,550.0 L780.3,552.3 L778.3,554.5999999999999 L776.3,552.3 Z" fill="#6a4ca8"/>
<path d="M736.3,571.0 L738.3,573.3 L736.3,575.5999999999999 L734.3,573.3 Z" fill="#6a4ca8"/>
<use href="#npP" x="865" y="472.5" width="46" height="46"/>
<path d="M873,471.2 L875,473.5 L873,475.8 L871,473.5 Z" fill="#6a4ca8"/>
<path d="M914,493.2 L916,495.5 L914,497.8 L912,495.5 Z" fill="#6a4ca8"/>
<path d="M872,514.2 L874,516.5 L872,518.8 L870,516.5 Z" fill="#6a4ca8"/>
<line x1="85" y1="123" x2="110.7" y2="142" stroke="#111" stroke-width="2.1" marker-end="url(#ah)"/>
<line x1="147.6" y1="182" x2="157.8" y2="205" stroke="#111" stroke-width="2.1" marker-end="url(#ah)"/>
<line x1="206" y1="236.5" x2="248.5" y2="244.8" stroke="#111" stroke-width="2.1" marker-end="url(#ah)"/>
<line x1="330" y1="250.3" x2="415.8" y2="250.4" stroke="#111" stroke-width="2.1" marker-end="url(#ah)"/>
<line x1="483.4" y1="250.5" x2="539.1" y2="250.5" stroke="#111" stroke-width="2.1" marker-end="url(#ah)"/>
<line x1="690" y1="283" x2="735.8" y2="283" stroke="#111" stroke-width="2.1" marker-end="url(#ah)"/>
<line x1="807.6" y1="283" x2="862.8" y2="283" stroke="#111" stroke-width="2.1" marker-end="url(#ah)"/>
<line x1="936.8" y1="283" x2="992.6" y2="283" stroke="#111" stroke-width="2.1" marker-end="url(#ah)"/>
<line x1="130" y1="331.5" x2="189.8" y2="331.5" stroke="#111" stroke-width="2.1" marker-end="url(#ah)"/>
<line x1="248.4" y1="331.5" x2="315.6" y2="331.8" stroke="#111" stroke-width="2.1" marker-end="url(#ah)"/>
<line x1="334.5" y1="364.7" x2="327.5" y2="398.7" stroke="#111" stroke-width="2.1" marker-end="url(#ah)"/>
<line x1="352.4" y1="451" x2="389.6" y2="503" stroke="#111" stroke-width="2.1" marker-end="url(#ah)"/>
<line x1="450.4" y1="527.3" x2="508.1" y2="527.3" stroke="#111" stroke-width="2.1" marker-end="url(#ah)"/>
<line x1="549.6" y1="500" x2="580" y2="408" stroke="#111" stroke-width="2.1" marker-end="url(#ah)"/>
<line x1="607.8" y1="355.6" x2="625.6" y2="314.4" stroke="#111" stroke-width="2.1" marker-end="url(#ah)"/>
<line x1="560" y1="511.3" x2="606" y2="486.7" stroke="#111" stroke-width="2.1" marker-end="url(#ah)"/>
<line x1="671.7" y1="492.4" x2="722.2" y2="529.5" stroke="#111" stroke-width="2.1" marker-end="url(#ah)"/>
<line x1="791" y1="548" x2="850.6" y2="513" stroke="#111" stroke-width="2.1" marker-end="url(#ah)"/>
<line x1="924.4" y1="495" x2="980.3" y2="495" stroke="#111" stroke-width="2.1" marker-end="url(#ah)"/>
<line x1="151" y1="78" x2="163" y2="92" stroke="#111" stroke-width="2"/>
<line x1="396" y1="215.7" x2="408" y2="233" stroke="#111" stroke-width="2"/>
<text x="124.6" y="80.5" font-size="13" text-anchor="middle" fill="#111" stroke="#111" stroke-width="0.2">GGT</text>
<text x="92" y="191.5" font-size="13" text-anchor="middle" fill="#111" stroke="#111" stroke-width="0.2">GGT-triggered</text>
<text x="91" y="206.5" font-size="13" text-anchor="middle" fill="#111" stroke="#111" stroke-width="0.2">charge reversal</text>
<text x="159.6" y="266.5" font-size="13" text-anchor="middle" fill="#111" stroke="#111" stroke-width="0.2">(1)</text>
<text x="158.5" y="280" font-size="13" text-anchor="middle" fill="#111" stroke="#111" stroke-width="0.2">Transcytosis</text>
<text x="157.3" y="348" font-size="13" text-anchor="middle" fill="#111" stroke="#111" stroke-width="0.2">(2)</text>
<text x="158" y="361.5" font-size="13" text-anchor="middle" fill="#111" stroke="#111" stroke-width="0.2">Extravasation</text>
<text x="97" y="620" font-size="13" text-anchor="middle" fill="#111" stroke="#111" stroke-width="0.2">Blood vessel</text>
<text x="222" y="604.5" font-size="13" text-anchor="middle" fill="#111" stroke="#111" stroke-width="0.2">Endothelial</text>
<text x="222" y="620.5" font-size="13" text-anchor="middle" fill="#111" stroke="#111" stroke-width="0.2">cell</text>
<text x="453" y="66.4" font-size="13" text-anchor="middle" fill="#111" stroke="#111" stroke-width="0.2">Tumour cell</text>
<text x="504.7" y="127" font-size="13.5" text-anchor="middle" fill="#0c1c2c" stroke="#0c1c2c" stroke-width="0.4">Nucleus</text>
<text x="394.7" y="207.5" font-size="13" text-anchor="middle" fill="#111" stroke="#111" stroke-width="0.2">GSH</text>
<text x="452.8" y="346" font-size="13" text-anchor="middle" fill="#111" stroke="#111" stroke-width="0.2">Tumour tissue</text>
<text x="620" y="346.7" font-size="13.3" text-anchor="start" fill="#111" stroke="#111" stroke-width="0.2">(4) Deep penetration</text>
<text x="472.6" y="542" font-size="13" text-anchor="middle" fill="#111" stroke="#111" stroke-width="0.2">(3)</text>
<text x="474" y="558.5" font-size="13" text-anchor="middle" fill="#111" stroke="#111" stroke-width="0.2">Transcytosis</text></svg>
</body></html>
